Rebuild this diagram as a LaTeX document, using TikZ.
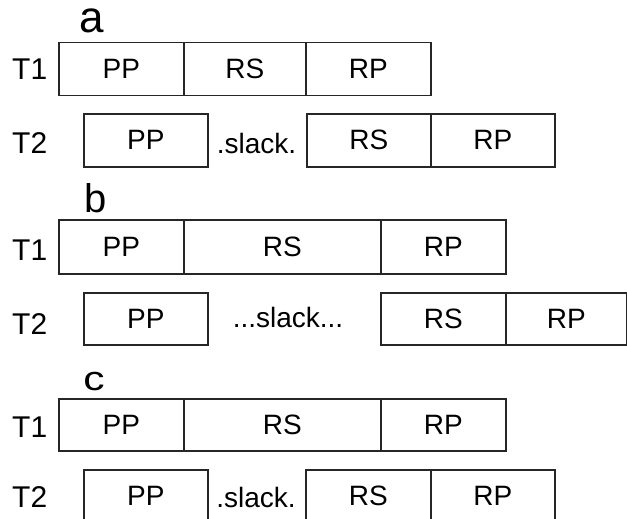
\documentclass[tikz,border=0pt]{standalone}
\usepackage{fontspec}
\setmainfont{Liberation Sans}
\begin{document}
\begin{tikzpicture}[x=1pt,y=-1pt,
  cell/.style={draw=black!85, line width=1.5pt, inner sep=0pt, anchor=north west,
    font=\fontsize{28}{30}\selectfont},
  lbl/.style={anchor=base west, inner sep=0pt, font=\fontsize{30}{32}\selectfont},
  gap/.style={anchor=base, inner sep=0pt, font=\fontsize{28}{30}\selectfont},
  sec/.style={anchor=base, inner sep=0pt}]
\useasboundingbox (0,0) rectangle (627,519);
% ---------- a ----------
\node[sec, font=\fontsize{44}{46}\selectfont] (la) at (92,33) {a};
\node[lbl] (aT1) at (12,80) {T1};
\node[cell, minimum width=125pt, minimum height=53pt] (a1pp) at (58,42) {PP};
\node[cell, minimum width=122pt, minimum height=53pt] (a1rs) at (183,42) {RS};
\node[cell, minimum width=125pt, minimum height=53pt] (a1rp) at (305,42) {RP};
\node[lbl] (aT2) at (12,153) {T2};
\node[cell, minimum width=124pt, minimum height=53pt] (a2pp) at (83,113) {PP};
\node[gap] (a2sl) at (256.5,153) {.slack.};
\node[cell, minimum width=124pt, minimum height=53pt] (a2rs) at (306,113) {RS};
\node[cell, minimum width=124pt, minimum height=53pt] (a2rp) at (430,113) {RP};
% ---------- b ----------
\node[sec, font=\fontsize{40}{42}\selectfont] (lb) at (96,212) {b};
\node[lbl] (bT1) at (12,260) {T1};
\node[cell, minimum width=125pt, minimum height=54pt] (b1pp) at (58,219) {PP};
\node[cell, minimum width=197pt, minimum height=54pt] (b1rs) at (183,219) {RS};
\node[cell, minimum width=125pt, minimum height=54pt] (b1rp) at (380,219) {RP};
\node[lbl] (bT2) at (12,334) {T2};
\node[cell, minimum width=124pt, minimum height=52pt] (b2pp) at (83,292) {PP};
\node[gap] (b2sl) at (288,327) {...slack...};
\node[cell, minimum width=125pt, minimum height=52pt] (b2rs) at (380,292) {RS};
\node[cell, minimum width=121pt, minimum height=52pt] (b2rp) at (505,292) {RP};
% ---------- c ----------
\node[sec, font=\fontsize{34}{36}\selectfont] (lc) at (94,390) {\scalebox{1.25}[1]{c}};
\node[lbl] (cT1) at (12,437) {T1};
\node[cell, minimum width=125pt, minimum height=52pt] (c1pp) at (58,398) {PP};
\node[cell, minimum width=197pt, minimum height=52pt] (c1rs) at (183,398) {RS};
\node[cell, minimum width=125pt, minimum height=52pt] (c1rp) at (380,398) {RP};
\node[lbl] (cT2) at (12,507) {T2};
\node[cell, minimum width=124pt, minimum height=53pt] (c2pp) at (83,469) {PP};
\node[gap] (c2sl) at (256,507) {.slack.};
\node[cell, minimum width=125pt, minimum height=53pt] (c2rs) at (305,469) {RS};
\node[cell, minimum width=124pt, minimum height=53pt] (c2rp) at (430,469) {RP};
\end{tikzpicture}
\end{document}
